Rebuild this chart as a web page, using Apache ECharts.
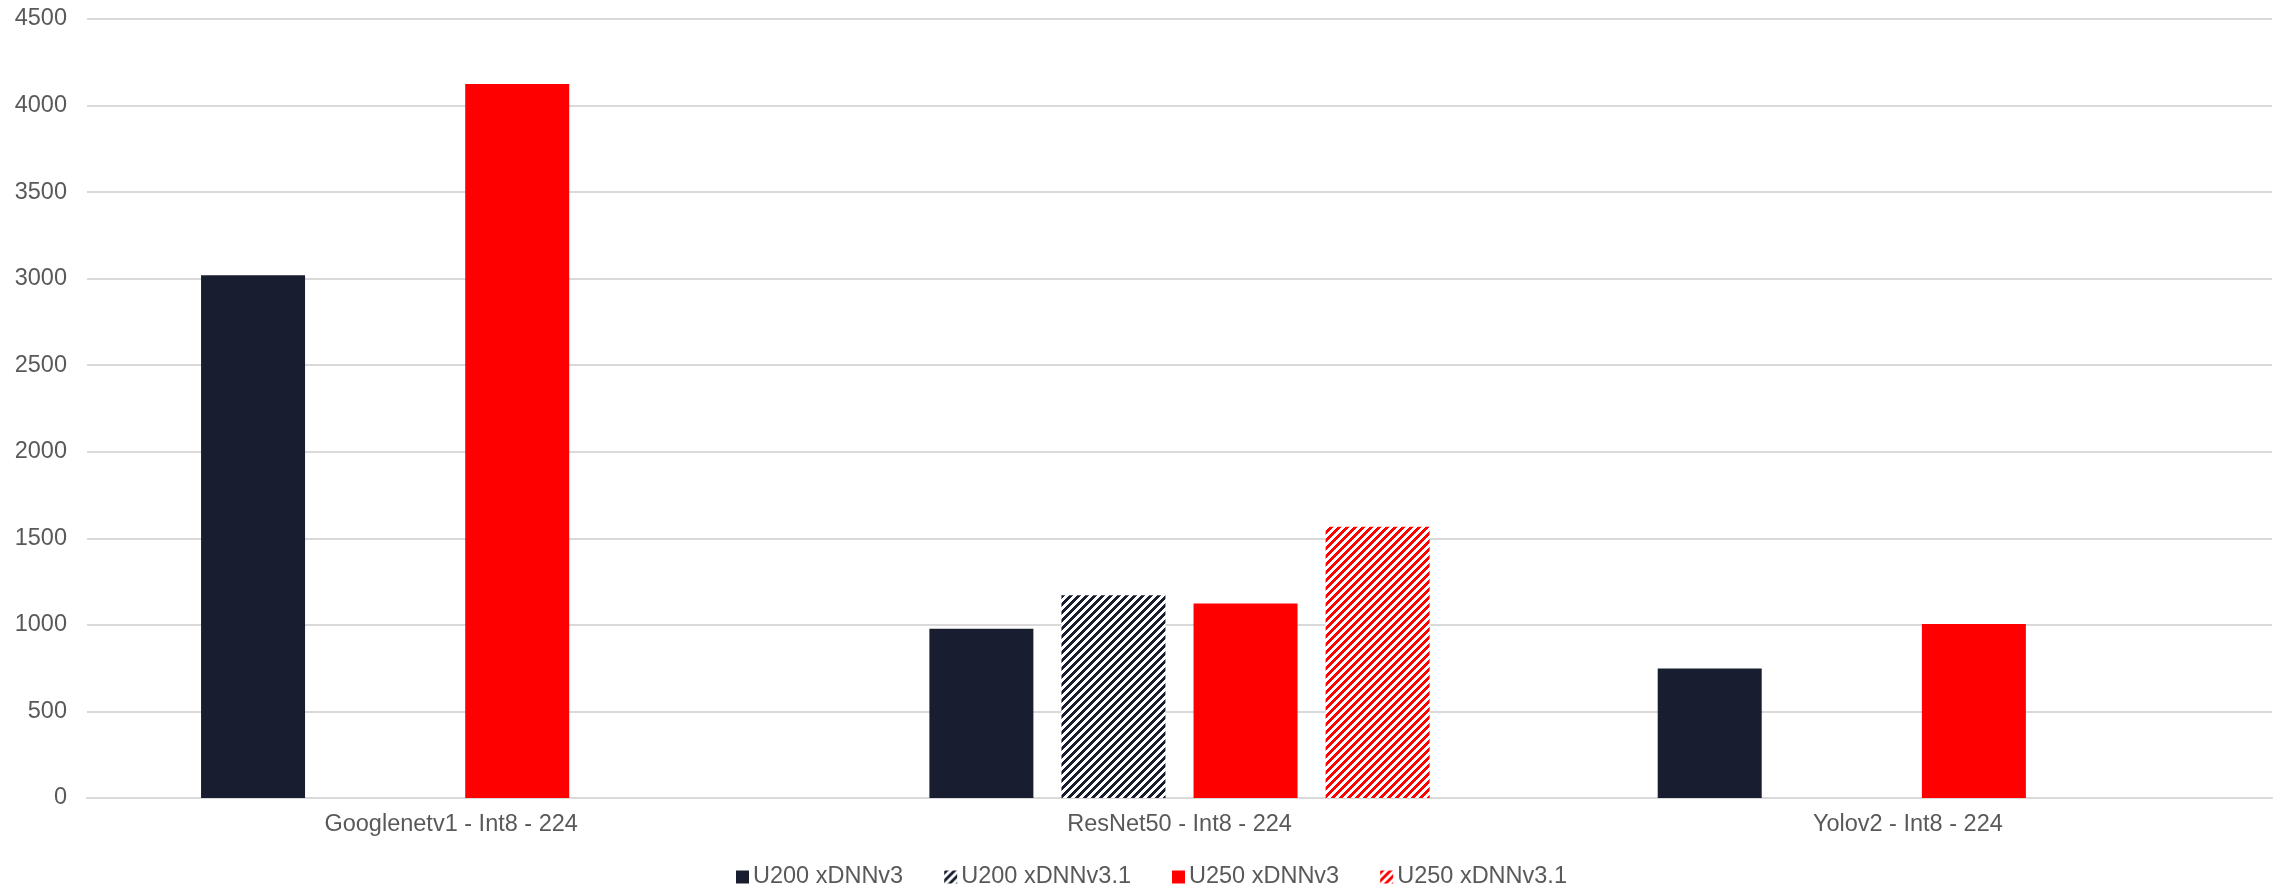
<!DOCTYPE html>
<html>
<head>
<meta charset="utf-8">
<style>
  html, body { margin: 0; padding: 0; background: #ffffff; }
  #chart { width: 2282px; height: 891px; }
</style>
<script src="https://cdn.jsdelivr.net/npm/echarts@6/dist/echarts.min.js"></script>
</head>
<body>
<div id="chart"></div>
<script>
// Throughput per model, grouped by card and xDNN version
const categories = ['Googlenetv1 - Int8 - 224', 'ResNet50 - Int8 - 224', 'Yolov2 - Int8 - 224'];
const seriesNames = ['U200 xDNNv3', 'U200 xDNNv3.1', 'U250 xDNNv3', 'U250 xDNNv3.1'];
const u200v3 = [3020, 977, 748];
const u200v31 = [null, 1171, null];
const u250v3 = [4124, 1123, 1005];
const u250v31 = [null, 1567, null];
const yTicks = { min: 0, max: 4500, interval: 500 };

const NAVY = '#181E2F';
const RED = '#FF0000';
const TEXT = '#595959';
const GRID = '#D9D9D9';
const FONT = '"Liberation Sans", Arial, sans-serif';

// Diagonal "/" stripe fill used for the v3.1 bars
function stripes(color) {
  const size = 8;
  const c = document.createElement('canvas');
  c.width = size; c.height = size;
  const ctx = c.getContext('2d');
  ctx.fillStyle = '#ffffff';
  ctx.fillRect(0, 0, size, size);
  ctx.fillStyle = color;
  for (let y = 0; y < size; y++) {
    for (let x = 0; x < size; x++) {
      if ((x + y) % size < 4) ctx.fillRect(x, y, 1, 1);
    }
  }
  return { image: c, repeat: 'repeat' };
}

const fills = [NAVY, stripes(NAVY), RED, stripes(RED)];
const values = [u200v3, u200v31, u250v3, u250v31];

const chart = echarts.init(document.getElementById('chart'), null, { renderer: 'canvas' });
chart.setOption({
  animation: false,
  backgroundColor: '#ffffff',
  textStyle: { fontFamily: FONT },
  grid: { left: 87, right: 10, top: 19, bottom: 93, containLabel: false },
  legend: {
    bottom: -3,
    left: 731,
    itemWidth: 13,
    itemHeight: 13,
    itemGap: 41,
    icon: 'rect',
    textStyle: { color: TEXT, fontSize: 23.5, fontFamily: FONT, padding: [0, 0, 0, -1] },
    data: seriesNames
  },
  xAxis: {
    type: 'category',
    data: categories,
    axisLine: { show: true, lineStyle: { color: GRID, width: 2 } },
    axisTick: { show: false },
    axisLabel: { color: TEXT, fontSize: 23.5, fontFamily: FONT, margin: 15 }
  },
  yAxis: {
    type: 'value',
    min: yTicks.min,
    max: yTicks.max,
    interval: yTicks.interval,
    axisLine: { show: false },
    axisTick: { show: false },
    axisLabel: {
      color: TEXT, fontSize: 23.5, fontFamily: FONT, margin: 20,
      formatter: (v) => String(v)
    },
    splitLine: { lineStyle: { color: GRID, width: 2 } }
  },
  series: seriesNames.map((name, i) => ({
    name: name,
    type: 'bar',
    data: values[i],
    barWidth: 104,
    barGap: '27%',
    itemStyle: { color: fills[i] }
  }))
});
</script>
</body>
</html>
